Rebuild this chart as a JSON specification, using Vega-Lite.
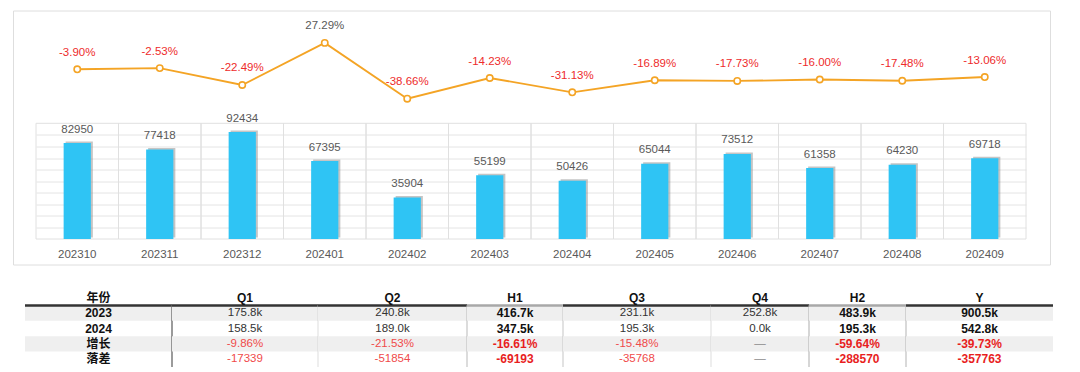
{
  "$schema": "https://vega.github.io/schema/vega-lite/v6.json",
  "padding": {"left": 12, "top": 9.5, "right": 0, "bottom": 0},
  "background": "white",
  "bounds": "flush",
  "spacing": 25.5,
  "config": {
    "font": "Liberation Sans, Noto Sans CJK SC, sans-serif",
    "view": {"stroke": null},
    "text": {"font": "Liberation Sans, Noto Sans CJK SC, sans-serif"},
    "locale": {"number": {"decimal": ".", "thousands": ",", "grouping": [3], "currency": ["", ""], "minus": "-"}}
  },
  "datasets": {
    "months": [
      {"month": "202310", "value": 82950, "pct": -0.039},
      {"month": "202311", "value": 77418, "pct": -0.0253},
      {"month": "202312", "value": 92434, "pct": -0.2249},
      {"month": "202401", "value": 67395, "pct": 0.2729},
      {"month": "202402", "value": 35904, "pct": -0.3866},
      {"month": "202403", "value": 55199, "pct": -0.1423},
      {"month": "202404", "value": 50426, "pct": -0.3113},
      {"month": "202405", "value": 65044, "pct": -0.1689},
      {"month": "202406", "value": 73512, "pct": -0.1773},
      {"month": "202407", "value": 61358, "pct": -0.16},
      {"month": "202408", "value": 64230, "pct": -0.1748},
      {"month": "202409", "value": 69718, "pct": -0.1306}
    ],
    "table": [
      {"col": "年份", "row": "hdr", "text": "年份"},
      {"col": "年份", "row": "2023", "text": "2023"},
      {"col": "年份", "row": "2024", "text": "2024"},
      {"col": "年份", "row": "增长", "text": "增长"},
      {"col": "年份", "row": "落差", "text": "落差"},
      {"col": "Q1", "row": "hdr", "text": "Q1"},
      {"col": "Q1", "row": "2023", "text": "175.8k"},
      {"col": "Q1", "row": "2024", "text": "158.5k"},
      {"col": "Q1", "row": "增长", "text": "-9.86%"},
      {"col": "Q1", "row": "落差", "text": "-17339"},
      {"col": "Q2", "row": "hdr", "text": "Q2"},
      {"col": "Q2", "row": "2023", "text": "240.8k"},
      {"col": "Q2", "row": "2024", "text": "189.0k"},
      {"col": "Q2", "row": "增长", "text": "-21.53%"},
      {"col": "Q2", "row": "落差", "text": "-51854"},
      {"col": "H1", "row": "hdr", "text": "H1"},
      {"col": "H1", "row": "2023", "text": "416.7k"},
      {"col": "H1", "row": "2024", "text": "347.5k"},
      {"col": "H1", "row": "增长", "text": "-16.61%"},
      {"col": "H1", "row": "落差", "text": "-69193"},
      {"col": "Q3", "row": "hdr", "text": "Q3"},
      {"col": "Q3", "row": "2023", "text": "231.1k"},
      {"col": "Q3", "row": "2024", "text": "195.3k"},
      {"col": "Q3", "row": "增长", "text": "-15.48%"},
      {"col": "Q3", "row": "落差", "text": "-35768"},
      {"col": "Q4", "row": "hdr", "text": "Q4"},
      {"col": "Q4", "row": "2023", "text": "252.8k"},
      {"col": "Q4", "row": "2024", "text": "0.0k"},
      {"col": "Q4", "row": "增长", "text": "—"},
      {"col": "Q4", "row": "落差", "text": "—"},
      {"col": "H2", "row": "hdr", "text": "H2"},
      {"col": "H2", "row": "2023", "text": "483.9k"},
      {"col": "H2", "row": "2024", "text": "195.3k"},
      {"col": "H2", "row": "增长", "text": "-59.64%"},
      {"col": "H2", "row": "落差", "text": "-288570"},
      {"col": "Y", "row": "hdr", "text": "Y"},
      {"col": "Y", "row": "2023", "text": "900.5k"},
      {"col": "Y", "row": "2024", "text": "542.8k"},
      {"col": "Y", "row": "增长", "text": "-39.73%"},
      {"col": "Y", "row": "落差", "text": "-357763"}
    ]
  },
  "vconcat": [
    {
      "width": 1037,
      "height": 254,
      "view": {"stroke": "#dedede", "strokeWidth": 1},
      "data": {"name": "months"},
      "encoding": {
        "x": {
          "field": "month", "type": "ordinal",
          "scale": {"type": "band", "range": [23, 1013], "paddingInner": 0, "paddingOuter": 0},
          "axis": {"title": null, "ticks": false, "domain": false, "grid": false, "labelAngle": 0, "labelColor": "#595959", "labelFontSize": 11.5, "labelFont": "Liberation Sans", "offset": -18, "labelPadding": 2}
        }
      },
      "layer": [
        {
          "encoding": {
            "y": {
              "field": "value", "type": "quantitative",
              "scale": {"domain": [0, 100000], "range": [228.5, 112.8], "nice": false, "zero": true},
              "axis": {"title": null, "labels": false, "ticks": false, "domain": false, "grid": true, "gridColor": "#e4e4e4", "values": [10000, 20000, 30000, 40000, 50000, 60000, 70000, 80000, 90000]}
            }
          },
          "layer": [
            {
              "mark": {"type": "rect", "fillOpacity": 0, "stroke": "#e0e0e0", "strokeWidth": 1},
              "encoding": {"y": {"datum": 0, "type": "quantitative"}, "y2": {"datum": 100000}}
            },
            {
              "mark": {"type": "bar", "color": "#8c8c8c", "opacity": 0.5, "xOffset": 2, "yOffset": -1.5, "width": {"band": 0.33}}
            },
            {
              "mark": {"type": "bar", "color": "#2fc4f4", "width": {"band": 0.33}}
            },
            {
              "mark": {"type": "text", "dy": -13.5, "fontSize": 11.5, "color": "#595959", "baseline": "middle"},
              "encoding": {"text": {"field": "value", "type": "quantitative", "format": "d"}}
            }
          ]
        },
        {
          "encoding": {
            "y": {
              "field": "pct", "type": "quantitative",
              "scale": {"domain": [-0.4, 0.3], "range": [89.3, 30.1], "nice": false, "zero": false},
              "axis": null
            }
          },
          "layer": [
            {"mark": {"type": "line", "color": "#f4a425", "strokeWidth": 1.8}},
            {"mark": {"type": "point", "filled": true, "fill": "white", "stroke": "#f4a425", "strokeWidth": 1.6, "size": 40, "opacity": 1}},
            {
              "mark": {"type": "text", "dy": -16.5, "fontSize": 11.5, "baseline": "middle"},
              "encoding": {
                "text": {"field": "pct", "type": "quantitative", "format": ".2%"},
                "color": {"condition": {"test": "datum.pct < 0", "value": "#ee2b2b"}, "value": "#595959"}
              }
            }
          ]
        }
      ],
      "resolve": {"scale": {"y": "independent"}}
    },
    {
      "hconcat": [
        {"width": 12, "height": 77, "data": {"values": [{"a": 1}]}, "mark": {"type": "point", "opacity": 0}, "encoding": {}},
        {
          "width": 147, "height": 77, "data": {"name": "table"},
          "transform": [{"filter": "datum.col === '年份'"}],
          "encoding": {"y": {"field": "row", "type": "ordinal", "scale": {"domain": ["hdr", "2023", "2024", "增长", "落差"], "paddingInner": 0, "paddingOuter": 0}, "axis": null}},
          "layer": [
            {"transform": [{"filter": "datum.row === '2023' || datum.row === '增长'"}], "mark": {"type": "rect", "color": "#efefef"}},
            {"transform": [{"filter": "datum.row === 'hdr'"}], "mark": {"type": "rule", "color": "#333333", "strokeWidth": 2.5}, "encoding": {"y": {"field": "row", "type": "ordinal", "bandPosition": 1}}},
            {"transform": [{"filter": "datum.row !== 'hdr'"}], "mark": {"type": "tick", "orient": "vertical", "color": "#707070", "thickness": 2, "size": 15.6}, "encoding": {"x": {"datum": 1, "type": "quantitative", "scale": {"domain": [0, 1]}, "axis": null}}},
            {"transform": [{"filter": "datum.row === 'hdr'"}], "mark": {"type": "text", "fontWeight": "bold", "fontSize": 12, "color": "#111111"}, "encoding": {"text": {"field": "text"}}},
            {"transform": [{"filter": "datum.row !== 'hdr'"}], "mark": {"type": "text", "fontWeight": "bold", "fontSize": 12, "color": "#111111"}, "encoding": {"text": {"field": "text"}}}
          ]
        },
        {
          "width": 146, "height": 77, "data": {"name": "table"},
          "transform": [{"filter": "datum.col === 'Q1'"}],
          "encoding": {"y": {"field": "row", "type": "ordinal", "scale": {"domain": ["hdr", "2023", "2024", "增长", "落差"], "paddingInner": 0, "paddingOuter": 0}, "axis": null}},
          "layer": [
            {"transform": [{"filter": "datum.row === '2023' || datum.row === '增长'"}], "mark": {"type": "rect", "color": "#efefef"}},
            {"transform": [{"filter": "datum.row === 'hdr'"}], "mark": {"type": "rule", "color": "#333333", "strokeWidth": 2.5}, "encoding": {"y": {"field": "row", "type": "ordinal", "bandPosition": 1}}},
            {"transform": [{"filter": "datum.row !== 'hdr'"}], "mark": {"type": "tick", "orient": "vertical", "color": "#d0d0d0", "thickness": 1, "size": 15.6}, "encoding": {"x": {"datum": 1, "type": "quantitative", "scale": {"domain": [0, 1]}, "axis": null}}},
            {"transform": [{"filter": "datum.row === 'hdr'"}], "mark": {"type": "text", "fontWeight": "bold", "fontSize": 12, "color": "#111111"}, "encoding": {"text": {"field": "text"}}},
            {"transform": [{"filter": "datum.row !== 'hdr'"}], "mark": {"type": "text", "fontSize": 11.5}, "encoding": {"text": {"field": "text"}, "color": {"condition": [{"test": "datum.text[0] === '-'", "value": "#f04a4a"}, {"test": "datum.text === '—'", "value": "#8a8a8a"}], "value": "#333333"}}}
          ]
        },
        {
          "width": 149, "height": 77, "data": {"name": "table"},
          "transform": [{"filter": "datum.col === 'Q2'"}],
          "encoding": {"y": {"field": "row", "type": "ordinal", "scale": {"domain": ["hdr", "2023", "2024", "增长", "落差"], "paddingInner": 0, "paddingOuter": 0}, "axis": null}},
          "layer": [
            {"transform": [{"filter": "datum.row === '2023' || datum.row === '增长'"}], "mark": {"type": "rect", "color": "#efefef"}},
            {"transform": [{"filter": "datum.row === 'hdr'"}], "mark": {"type": "rule", "color": "#333333", "strokeWidth": 2.5}, "encoding": {"y": {"field": "row", "type": "ordinal", "bandPosition": 1}}},
            {"transform": [{"filter": "datum.row !== 'hdr'"}], "mark": {"type": "tick", "orient": "vertical", "color": "#bdbdbd", "thickness": 1.5, "size": 15.6}, "encoding": {"x": {"datum": 1, "type": "quantitative", "scale": {"domain": [0, 1]}, "axis": null}}},
            {"transform": [{"filter": "datum.row === 'hdr'"}], "mark": {"type": "text", "fontWeight": "bold", "fontSize": 12, "color": "#111111"}, "encoding": {"text": {"field": "text"}}},
            {"transform": [{"filter": "datum.row !== 'hdr'"}], "mark": {"type": "text", "fontSize": 11.5}, "encoding": {"text": {"field": "text"}, "color": {"condition": [{"test": "datum.text[0] === '-'", "value": "#f04a4a"}, {"test": "datum.text === '—'", "value": "#8a8a8a"}], "value": "#333333"}}}
          ]
        },
        {
          "width": 96, "height": 77, "data": {"name": "table"},
          "transform": [{"filter": "datum.col === 'H1'"}],
          "encoding": {"y": {"field": "row", "type": "ordinal", "scale": {"domain": ["hdr", "2023", "2024", "增长", "落差"], "paddingInner": 0, "paddingOuter": 0}, "axis": null}},
          "layer": [
            {"transform": [{"filter": "datum.row === '2023' || datum.row === '增长'"}], "mark": {"type": "rect", "color": "#efefef"}},
            {"transform": [{"filter": "datum.row === 'hdr'"}], "mark": {"type": "rule", "color": "#a8a8a8", "strokeWidth": 2.5}, "encoding": {"y": {"field": "row", "type": "ordinal", "bandPosition": 1}}},
            {"transform": [{"filter": "datum.row !== 'hdr'"}], "mark": {"type": "tick", "orient": "vertical", "color": "#c8c8c8", "thickness": 1.5, "size": 15.6}, "encoding": {"x": {"datum": 1, "type": "quantitative", "scale": {"domain": [0, 1]}, "axis": null}}},
            {"transform": [{"filter": "datum.row === 'hdr'"}], "mark": {"type": "text", "fontWeight": "bold", "fontSize": 12, "color": "#111111"}, "encoding": {"text": {"field": "text"}}},
            {"transform": [{"filter": "datum.row !== 'hdr'"}], "mark": {"type": "text", "fontSize": 12, "fontWeight": "bold"}, "encoding": {"text": {"field": "text"}, "color": {"condition": [{"test": "datum.text[0] === '-'", "value": "#e81e1e"}, {"test": "datum.text === '—'", "value": "#8a8a8a"}], "value": "#111111"}}}
          ]
        },
        {
          "width": 148, "height": 77, "data": {"name": "table"},
          "transform": [{"filter": "datum.col === 'Q3'"}],
          "encoding": {"y": {"field": "row", "type": "ordinal", "scale": {"domain": ["hdr", "2023", "2024", "增长", "落差"], "paddingInner": 0, "paddingOuter": 0}, "axis": null}},
          "layer": [
            {"transform": [{"filter": "datum.row === '2023' || datum.row === '增长'"}], "mark": {"type": "rect", "color": "#efefef"}},
            {"transform": [{"filter": "datum.row === 'hdr'"}], "mark": {"type": "rule", "color": "#333333", "strokeWidth": 2.5}, "encoding": {"y": {"field": "row", "type": "ordinal", "bandPosition": 1}}},
            {"transform": [{"filter": "datum.row !== 'hdr'"}], "mark": {"type": "tick", "orient": "vertical", "color": "#d0d0d0", "thickness": 1, "size": 15.6}, "encoding": {"x": {"datum": 1, "type": "quantitative", "scale": {"domain": [0, 1]}, "axis": null}}},
            {"transform": [{"filter": "datum.row === 'hdr'"}], "mark": {"type": "text", "fontWeight": "bold", "fontSize": 12, "color": "#111111"}, "encoding": {"text": {"field": "text"}}},
            {"transform": [{"filter": "datum.row !== 'hdr'"}], "mark": {"type": "text", "fontSize": 11.5}, "encoding": {"text": {"field": "text"}, "color": {"condition": [{"test": "datum.text[0] === '-'", "value": "#f04a4a"}, {"test": "datum.text === '—'", "value": "#8a8a8a"}], "value": "#333333"}}}
          ]
        },
        {
          "width": 98, "height": 77, "data": {"name": "table"},
          "transform": [{"filter": "datum.col === 'Q4'"}],
          "encoding": {"y": {"field": "row", "type": "ordinal", "scale": {"domain": ["hdr", "2023", "2024", "增长", "落差"], "paddingInner": 0, "paddingOuter": 0}, "axis": null}},
          "layer": [
            {"transform": [{"filter": "datum.row === '2023' || datum.row === '增长'"}], "mark": {"type": "rect", "color": "#efefef"}},
            {"transform": [{"filter": "datum.row === 'hdr'"}], "mark": {"type": "rule", "color": "#333333", "strokeWidth": 2.5}, "encoding": {"y": {"field": "row", "type": "ordinal", "bandPosition": 1}}},
            {"transform": [{"filter": "datum.row !== 'hdr'"}], "mark": {"type": "tick", "orient": "vertical", "color": "#b0b0b0", "thickness": 1.5, "size": 15.6}, "encoding": {"x": {"datum": 1, "type": "quantitative", "scale": {"domain": [0, 1]}, "axis": null}}},
            {"transform": [{"filter": "datum.row === 'hdr'"}], "mark": {"type": "text", "fontWeight": "bold", "fontSize": 12, "color": "#111111"}, "encoding": {"text": {"field": "text"}}},
            {"transform": [{"filter": "datum.row !== 'hdr'"}], "mark": {"type": "text", "fontSize": 11.5}, "encoding": {"text": {"field": "text"}, "color": {"condition": [{"test": "datum.text[0] === '-'", "value": "#f04a4a"}, {"test": "datum.text === '—'", "value": "#8a8a8a"}], "value": "#333333"}}}
          ]
        },
        {
          "width": 97, "height": 77, "data": {"name": "table"},
          "transform": [{"filter": "datum.col === 'H2'"}],
          "encoding": {"y": {"field": "row", "type": "ordinal", "scale": {"domain": ["hdr", "2023", "2024", "增长", "落差"], "paddingInner": 0, "paddingOuter": 0}, "axis": null}},
          "layer": [
            {"transform": [{"filter": "datum.row === '2023' || datum.row === '增长'"}], "mark": {"type": "rect", "color": "#efefef"}},
            {"transform": [{"filter": "datum.row === 'hdr'"}], "mark": {"type": "rule", "color": "#a8a8a8", "strokeWidth": 2.5}, "encoding": {"y": {"field": "row", "type": "ordinal", "bandPosition": 1}}},
            {"transform": [{"filter": "datum.row !== 'hdr'"}], "mark": {"type": "tick", "orient": "vertical", "color": "#b8b8b8", "thickness": 1.5, "size": 15.6}, "encoding": {"x": {"datum": 1, "type": "quantitative", "scale": {"domain": [0, 1]}, "axis": null}}},
            {"transform": [{"filter": "datum.row === 'hdr'"}], "mark": {"type": "text", "fontWeight": "bold", "fontSize": 12, "color": "#111111"}, "encoding": {"text": {"field": "text"}}},
            {"transform": [{"filter": "datum.row !== 'hdr'"}], "mark": {"type": "text", "fontSize": 12, "fontWeight": "bold"}, "encoding": {"text": {"field": "text"}, "color": {"condition": [{"test": "datum.text[0] === '-'", "value": "#e81e1e"}, {"test": "datum.text === '—'", "value": "#8a8a8a"}], "value": "#111111"}}}
          ]
        },
        {
          "width": 147, "height": 77, "data": {"name": "table"},
          "transform": [{"filter": "datum.col === 'Y'"}],
          "encoding": {"y": {"field": "row", "type": "ordinal", "scale": {"domain": ["hdr", "2023", "2024", "增长", "落差"], "paddingInner": 0, "paddingOuter": 0}, "axis": null}},
          "layer": [
            {"transform": [{"filter": "datum.row === '2023' || datum.row === '增长'"}], "mark": {"type": "rect", "color": "#efefef"}},
            {"transform": [{"filter": "datum.row === 'hdr'"}], "mark": {"type": "rule", "color": "#333333", "strokeWidth": 2.5}, "encoding": {"y": {"field": "row", "type": "ordinal", "bandPosition": 1}}},
            {"transform": [{"filter": "datum.row === 'hdr'"}], "mark": {"type": "text", "fontWeight": "bold", "fontSize": 12, "color": "#111111"}, "encoding": {"text": {"field": "text"}}},
            {"transform": [{"filter": "datum.row !== 'hdr'"}], "mark": {"type": "text", "fontSize": 12, "fontWeight": "bold"}, "encoding": {"text": {"field": "text"}, "color": {"condition": [{"test": "datum.text[0] === '-'", "value": "#e81e1e"}, {"test": "datum.text === '—'", "value": "#8a8a8a"}], "value": "#111111"}}}
          ]
        }
      ],
      "spacing": 0,
      "bounds": "flush"
    }
  ]
}
